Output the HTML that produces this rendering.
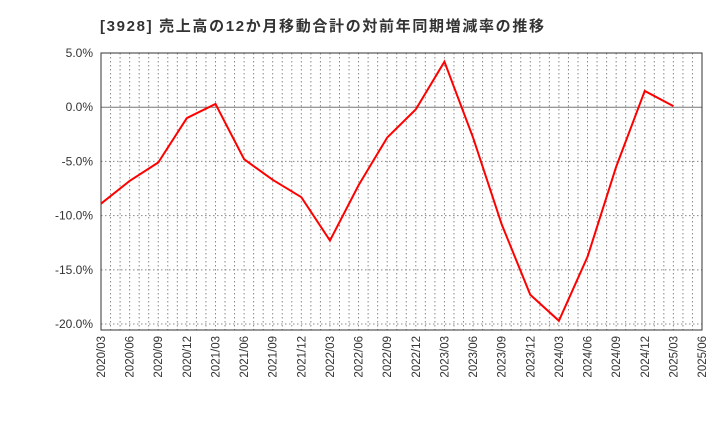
<!DOCTYPE html>
<html><head><meta charset="utf-8"><style>body{margin:0;background:#fff}svg{font-family:"Liberation Sans","Noto Sans CJK JP",sans-serif}</style></head>
<body>
<svg id="c" width="720" height="440">
<text x="100" y="31" font-size="15" font-weight="bold" fill="#333" textLength="444" lengthAdjust="spacing">[3928]  売上高の12か月移動合計の対前年同期増減率の推移</text>
<g id="grid"></g><g id="axes"></g><g id="series"></g>
</svg>
<script>
const categories=["2020/03","2020/06","2020/09","2020/12","2021/03","2021/06","2021/09","2021/12","2022/03","2022/06","2022/09","2022/12","2023/03","2023/06","2023/09","2023/12","2024/03","2024/06","2024/09","2024/12","2025/03"];
const values=[-8.9,-6.8,-5.1,-1.0,0.3,-4.8,-6.7,-8.3,-12.3,-7.2,-2.8,-0.2,4.2,-2.8,-10.8,-17.3,-19.7,-13.8,-5.5,1.5,0.1];
const xTickLabels=["2020/03","2020/06","2020/09","2020/12","2021/03","2021/06","2021/09","2021/12","2022/03","2022/06","2022/09","2022/12","2023/03","2023/06","2023/09","2023/12","2024/03","2024/06","2024/09","2024/12","2025/03","2025/06"];
const yTicks=[5,0,-5,-10,-15,-20];
const L=101,R=702,T=53,B=330,yMax=5,yMin=-20.55;
const nQ=21;
const x=i=>L+(R-L)*i/nQ;
const y=v=>T+(yMax-v)/(yMax-yMin)*(B-T);
const ns="http://www.w3.org/2000/svg";
function mk(t,a,p){const e=document.createElementNS(ns,t);for(const k in a)e.setAttribute(k,a[k]);p.appendChild(e);return e;}
const g=document.getElementById('grid'),ax=document.getElementById('axes'),s=document.getElementById('series');
for(let m=1;m<nQ*3;m++){const xx=L+(R-L)*m/(nQ*3);
const l=mk('line',{x1:xx,x2:xx,y1:T,y2:B,stroke:'#888','stroke-dasharray':'1.5,2.5','stroke-width':1},g);
}
yTicks.forEach(v=>{const yy=y(v);
const l=mk('line',{x1:L,x2:R,y1:yy,y2:yy,stroke:v===0?'#777':'#888','stroke-dasharray':v===0?'none':'1.5,2.5','stroke-width':1},g);

const t=mk('text',{x:L-8,y:yy+4,'text-anchor':'end','font-size':12,fill:'#333'},ax);t.textContent=v.toFixed(1)+'%';
});
const r=mk('rect',{x:L,y:T,width:R-L,height:B-T,fill:'none',stroke:'#333','stroke-width':1},ax);

xTickLabels.forEach((lab,i)=>{const xx=x(i);
const t=mk('text',{x:xx+4,y:B+6,'text-anchor':'end','font-size':11.5,fill:'#333',transform:`rotate(-90 ${xx+4} ${B+6})`},ax);t.textContent=lab;
});
const p=mk('polyline',{points:values.map((v,i)=>x(i)+','+y(v)).join(' '),fill:'none',stroke:'#f00','stroke-width':2},s);

</script>
</body></html>
